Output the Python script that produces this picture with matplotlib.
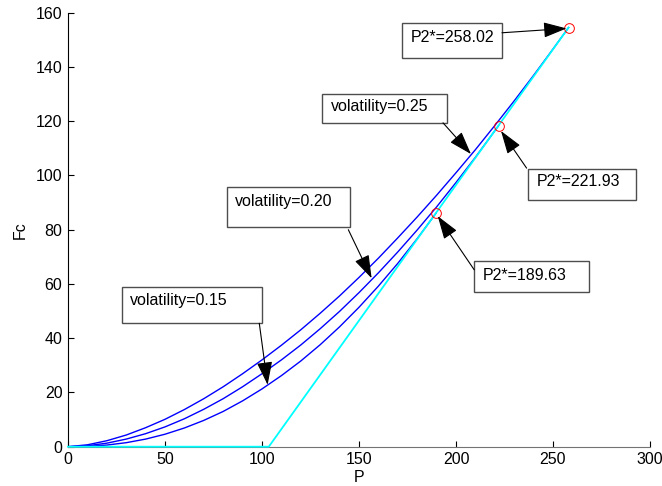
import matplotlib
matplotlib.use('Agg')
import matplotlib.pyplot as plt
from matplotlib.patches import Rectangle

plt.rcParams['font.family'] = ['Liberation Sans', 'DejaVu Sans']

# option value curves (P, Fc)
P_15 = [0, 10, 20, 30, 40, 50, 60, 70, 80, 90, 100, 110, 120, 130, 140, 150,
        160, 170, 180, 189.63]
F_15 = [0, 0.13, 0.60, 1.48, 2.8, 4.6, 6.9, 9.7, 13.0, 16.9, 21.3, 26.2, 31.6,
        37.6, 44.2, 51.4, 59.2, 67.6, 76.7, 86.03]
P_20 = [0, 10, 20, 30, 40, 50, 60, 70, 80, 90, 100, 110, 120, 130, 140, 150,
        160, 170, 180, 190, 200, 210, 221.93]
F_20 = [0, 0.35, 1.3, 2.8, 4.8, 7.3, 10.3, 13.8, 17.7, 22.1, 26.9, 32.0, 37.5,
        43.5, 49.9, 56.8, 64.1, 71.8, 79.9, 88.4, 97.4, 106.7, 118.33]
P_25 = [0, 10, 20, 30, 40, 50, 60, 70, 80, 90, 100, 110, 120, 130, 140, 150,
        160, 170, 180, 190, 200, 210, 220, 230, 240, 250, 258.02]
F_25 = [0, 0.7, 2.2, 4.3, 7.0, 10.1, 13.7, 17.7, 22.1, 26.9, 32.0, 37.4, 43.1,
        49.2, 55.6, 62.4, 69.5, 77.0, 84.7, 92.7, 101.0, 109.5, 118.4, 127.5,
        136.9, 146.6, 154.52]

# exercise payoff (cyan)
P_pay = [0, 103.5, 258.02]
F_pay = [0, 0, 154.52]

# trigger points
P_star = [189.63, 221.93, 258.02]
F_star = [86.03, 118.33, 154.52]

fig = plt.figure(figsize=(6.62, 4.86), dpi=100)
ax = fig.add_axes([68 / 662, 1 - 446.7 / 486, 582 / 662, 434 / 486])

for p, f in [(P_15, F_15), (P_20, F_20), (P_25, F_25)]:
    ax.plot(p, f, color='#0000ff', lw=1.0)
ax.plot(P_pay, F_pay, color='#00ffff', lw=1.3, clip_on=False, zorder=3)
ax.plot(P_star, F_star, 'o', mfc='none', mec='red', ms=7, mew=0.7, zorder=4)

ax.set_xlim(0, 300)
ax.set_ylim(0, 160)
ax.set_xticks(range(0, 301, 50))
ax.set_yticks(range(0, 161, 20))
ax.tick_params(direction='in', length=4, width=0.8, labelsize=11.5, pad=4)
ax.spines['top'].set_visible(False)
ax.spines['right'].set_visible(False)
ax.spines['bottom'].set_color('0.45')
ax.set_xlabel('P', fontsize=11.5, labelpad=2)
ax.set_ylabel('Fc', fontsize=11.5, labelpad=6)

# text boxes with arrows: (text, box x0, y0, w, h, text x, text y, arrow start, arrow tip)
notes = [
    ('P2*=258.02', 172.2, 143.3, 51.5, 12.9, 176.6, 150.8, (223.7, 152.6), (257.0, 154.2)),
    ('volatility=0.25', 130.9, 119.3, 64.3, 10.8, 135.6, 125.3, (193.3, 119.4), (207.7, 107.9)),
    ('P2*=221.93', 237.3, 91.0, 55.5, 11.5, 241.6, 97.6, (236.4, 102.7), (223.2, 116.4)),
    ('volatility=0.20', 81.8, 81.0, 63.6, 14.6, 86.0, 90.4, (144.5, 80.0), (156.5, 62.1)),
    ('P2*=189.63', 209.4, 57.0, 59.3, 11.3, 213.8, 63.2, (209.4, 65.2), (190.6, 85.0)),
    ('volatility=0.15', 27.7, 45.5, 72.1, 13.5, 31.8, 54.0, (98.6, 45.5), (102.9, 22.8)),
]
for txt, bx, by, bw, bh, tx, ty, start, tip in notes:
    ax.add_patch(Rectangle((bx, by), bw, bh, fc='white', ec='0.3', lw=1.0, zorder=5))
    ax.text(tx, ty, txt, fontsize=11.5, ha='left', va='center', zorder=6)
    ax.annotate('', xy=tip, xytext=start, zorder=6,
                arrowprops=dict(arrowstyle='-|>,head_length=0.9,head_width=0.3',
                                color='black', lw=0.8, mutation_scale=16,
                                shrinkA=0, shrinkB=0))

fig.savefig('out.png', dpi=100)
